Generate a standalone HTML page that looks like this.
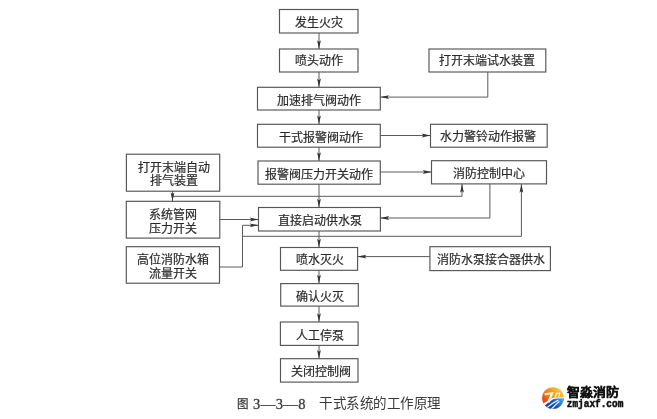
<!DOCTYPE html>
<html lang="zh-CN"><head><meta charset="utf-8">
<style>
html,body{margin:0;padding:0;background:#fff;}
body{width:657px;height:419px;overflow:hidden;position:relative;font-family:"Liberation Serif",serif;}
svg{position:absolute;left:0;top:0;will-change:transform;}
.b{fill:none;stroke:#555;stroke-width:1.15;}
.l{fill:none;stroke:#5a5a5a;stroke-width:1;}
.a{fill:#333;}
.t{font-family:"Liberation Serif",serif;font-size:12px;fill:#2a2a2a;stroke:#2a2a2a;stroke-width:0.2;text-anchor:middle;dominant-baseline:central;}
.cap{font-family:"Liberation Serif",serif;font-size:13.5px;fill:#3a3a3a;}
.capn{font-family:"Liberation Serif",serif;font-size:14.5px;fill:#3a3a3a;stroke:#3a3a3a;stroke-width:0.3;}
.lg1{font-family:"Liberation Sans",sans-serif;font-size:12px;font-weight:bold;fill:#111;}
.lg2{font-family:"Liberation Mono",monospace;font-size:10.5px;font-weight:bold;fill:#111;}
</style></head><body>
<svg width="657" height="419" viewBox="0 0 657 419">
<rect x="279.5" y="9.5" width="78.5" height="23.5" class="b"/>
<text x="318.8" y="23.2" class="t">发生火灾</text>
<rect x="279.5" y="49" width="78.5" height="23.0" class="b"/>
<text x="318.8" y="61.3" class="t">喷头动作</text>
<rect x="257.5" y="87.3" width="122.8" height="22.7" class="b"/>
<text x="318.9" y="101.2" class="t">加速排气阀动作</text>
<rect x="257.5" y="124.3" width="122.8" height="22.9" class="b"/>
<text x="321.4" y="137.8" class="t">干式报警阀动作</text>
<rect x="258" y="161" width="122.3" height="23.2" class="b"/>
<text x="319.1" y="174.6" class="t">报警阀压力开关动作</text>
<rect x="258.5" y="207.5" width="121.9" height="23.5" class="b"/>
<text x="320.4" y="221.2" class="t">直接启动供水泵</text>
<rect x="280.5" y="247.5" width="77.1" height="22.8" class="b"/>
<text x="319.6" y="260.2" class="t">喷水灭火</text>
<rect x="280.7" y="283.6" width="77.6" height="22.5" class="b"/>
<text x="319.5" y="296.9" class="t">确认火灭</text>
<rect x="280.4" y="322" width="77.7" height="23.4" class="b"/>
<text x="319.8" y="335.7" class="t">人工停泵</text>
<rect x="280.5" y="358.7" width="77.5" height="23.4" class="b"/>
<text x="320.8" y="372.4" class="t">关闭控制阀</text>
<rect x="429" y="49" width="116.8" height="23.0" class="b"/>
<text x="487.4" y="61.0" class="t">打开末端试水装置</text>
<rect x="430.5" y="124.3" width="116.7" height="22.9" class="b"/>
<text x="488.4" y="137.2" class="t">水力警铃动作报警</text>
<rect x="431.5" y="160.7" width="115.0" height="23.2" class="b"/>
<text x="489.0" y="173.6" class="t">消防控制中心</text>
<rect x="429.9" y="246.7" width="120.5" height="23.9" class="b"/>
<text x="490.9" y="259.8" class="t">消防水泵接合器供水</text>
<rect x="126.4" y="154.2" width="93.3" height="37.0" class="b"/>
<text x="173.8" y="167.5" class="t">打开末端自动</text>
<text x="173.8" y="180.9" class="t">排气装置</text>
<rect x="126.3" y="201.3" width="93.5" height="36.8" class="b"/>
<text x="173.1" y="214.5" class="t">系统管网</text>
<text x="173.1" y="228.8" class="t">压力开关</text>
<rect x="126.3" y="246.7" width="93.2" height="36.5" class="b"/>
<text x="172.9" y="259.9" class="t">高位消防水箱</text>
<text x="172.9" y="274.0" class="t">流量开关</text>
<polyline points="319,33 319,49" class="l"/>
<polyline points="319,72 319,87.3" class="l"/>
<polyline points="319,110 319,124.3" class="l"/>
<polyline points="319,147.2 319,161" class="l"/>
<polyline points="319,184.2 319,207.5" class="l"/>
<polyline points="319,231 319,247.5" class="l"/>
<polyline points="319,270.3 319,283.6" class="l"/>
<polyline points="319,306.1 319,322" class="l"/>
<polyline points="319,345.4 319,358.7" class="l"/>
<polyline points="487.8,72 487.8,97.1 380.3,97.1" class="l"/>
<polyline points="380.3,135.5 430.5,135.5" class="l"/>
<polyline points="380.3,172 431.5,172" class="l"/>
<polyline points="172.5,191.2 172.5,201.3" class="l"/>
<polyline points="172.5,196.3 462,196.3 462,183.9" class="l"/>
<polyline points="219.8,219.5 258.5,219.5" class="l"/>
<polyline points="489.9,183.9 489.9,218 380.4,218" class="l"/>
<polyline points="219.5,267 242.5,267 242.5,225.3 258.5,225.3" class="l"/>
<polyline points="242.5,236.3 521.4,236.3 521.4,183.9" class="l"/>
<polyline points="429.9,256.6 357.6,256.6" class="l"/>
<polygon points="319.0,49.0 317.1,40.2 319.0,42.0 320.9,40.2" class="a"/>
<polygon points="319.0,87.3 317.1,78.5 319.0,80.3 320.9,78.5" class="a"/>
<polygon points="319.0,124.3 317.1,115.5 319.0,117.3 320.9,115.5" class="a"/>
<polygon points="319.0,161.0 317.1,152.2 319.0,154.0 320.9,152.2" class="a"/>
<polygon points="319.0,207.5 317.1,198.7 319.0,200.5 320.9,198.7" class="a"/>
<polygon points="319.0,247.5 317.1,238.7 319.0,240.5 320.9,238.7" class="a"/>
<polygon points="319.0,283.6 317.1,274.8 319.0,276.6 320.9,274.8" class="a"/>
<polygon points="319.0,322.0 317.1,313.2 319.0,315.0 320.9,313.2" class="a"/>
<polygon points="319.0,358.7 317.1,349.9 319.0,351.7 320.9,349.9" class="a"/>
<polygon points="380.3,97.1 389.1,95.2 387.3,97.1 389.1,99.0" class="a"/>
<polygon points="430.5,135.5 421.7,133.6 423.5,135.5 421.7,137.4" class="a"/>
<polygon points="431.5,172.0 422.7,170.1 424.5,172.0 422.7,173.9" class="a"/>
<polygon points="172.5,201.3 170.6,192.5 172.5,194.3 174.4,192.5" class="a"/>
<polygon points="462.0,183.9 460.1,192.7 462.0,190.9 463.9,192.7" class="a"/>
<polygon points="258.5,219.5 249.7,217.6 251.5,219.5 249.7,221.4" class="a"/>
<polygon points="380.4,218.0 389.2,216.1 387.4,218.0 389.2,219.9" class="a"/>
<polygon points="258.5,225.3 249.7,223.4 251.5,225.3 249.7,227.2" class="a"/>
<polygon points="521.4,183.9 519.5,192.7 521.4,190.9 523.3,192.7" class="a"/>
<polygon points="357.6,256.6 366.4,254.7 364.6,256.6 366.4,258.5" class="a"/>
<text x="236.9" y="408.0" class="cap" style="font-size:11.5px;stroke:#3a3a3a;stroke-width:0.25">图</text>
<text x="253.0" y="409.2" class="capn" textLength="52.5" lengthAdjust="spacing">3—3—8</text>
<text x="319.3" y="408.3" class="cap" textLength="121" lengthAdjust="spacing">干式系统的工作原理</text>
<defs>
<clipPath id="cc"><circle cx="553" cy="398" r="10.85"/></clipPath>
<linearGradient id="og" gradientUnits="userSpaceOnUse" x1="543" y1="401" x2="558" y2="389">
<stop offset="0" stop-color="#e4401c"/><stop offset="0.5" stop-color="#f08a1e"/><stop offset="1" stop-color="#f4bf36"/>
</linearGradient>
<linearGradient id="bg" gradientUnits="userSpaceOnUse" x1="548" y1="408" x2="562" y2="398">
<stop offset="0" stop-color="#173e9c"/><stop offset="0.5" stop-color="#1f5cc0"/><stop offset="1" stop-color="#3fa8ea"/>
</linearGradient>
</defs>
<g clip-path="url(#cc)">
<rect x="540" y="385" width="27" height="27" fill="url(#og)"/>
<path d="M540,405.0 Q548,401.5 553,397.8 L566,397.2 L566,412 L540,412 Z" fill="#fff"/>
<path d="M543.5,406.6 Q549,401.5 553.5,398.9 Q557,398.3 566,398.2 L566,412 L543,412 Z" fill="url(#bg)"/>
<path d="M546.6,407.8 Q552,403 558.4,399.9" stroke="#fff" stroke-width="1.1" fill="none"/>
<path d="M550.6,410.0 Q555,405 559.4,401.3" stroke="#fff" stroke-width="1.1" fill="none"/>
<path d="M544.4,393.2 L553.7,392.0 L553.2,393.8 L549.8,402.4 L546.8,402.8 L550.4,394.6 L544.9,395.5 Z" fill="#fff6d8"/>
<path d="M554.3,397.4 L555.7,392.8 L560.4,392.5 L559.6,396.7 L558.3,396.8 L558.9,393.9 L557.2,394.0 L556.1,397.3 Z" fill="#fff6d8"/>
</g>
<text x="566.5" y="397.2" class="lg1" stroke="#111" stroke-width="0.3" textLength="52" lengthAdjust="spacingAndGlyphs">智淼消防</text>
<text x="566.8" y="407" class="lg2" stroke="#111" stroke-width="0.5" textLength="56.5" lengthAdjust="spacingAndGlyphs">zmjaxf.com</text>
</svg>
</body></html>
